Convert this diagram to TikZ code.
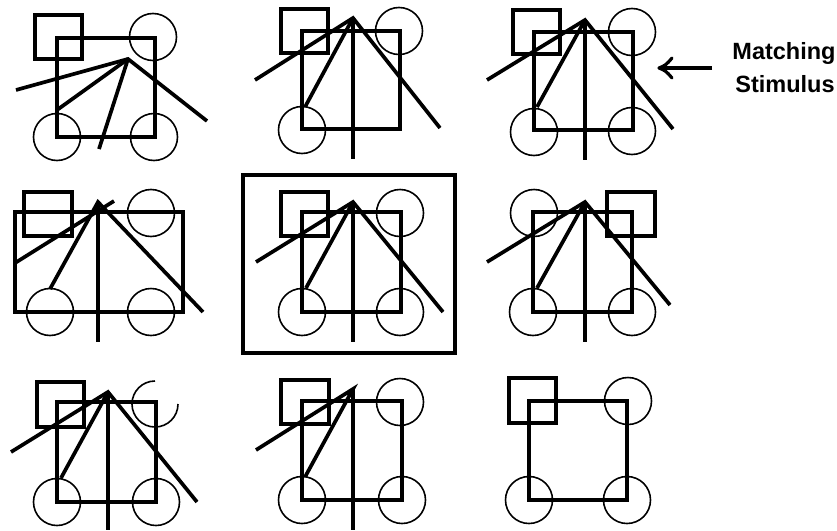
\documentclass[tikz,border=0pt]{standalone}
\usepackage{fontspec}
\newfontfamily\labfont{Liberation Sans}
\begin{document}
\begin{tikzpicture}[x=1pt,y=-1pt,
  thk/.style={line width=3.7pt,line join=miter},
  crc/.style={line width=1.6pt},
  arr/.style={line width=3.2pt},
  lbl/.style={font=\labfont\bfseries\fontsize{23.5}{28}\selectfont,anchor=base,inner sep=0pt}]
\useasboundingbox (0,0) rectangle (837,530);
\def\R{23.5}
% ---- figure 1
\draw[thk] (35,15) rectangle (82,59);
\draw[thk] (57,38) rectangle (155,137);
\draw[crc] (153,37) circle (\R) (57,137) circle (\R) (154,137) circle (\R);
\coordinate (a1) at (128,59);
\draw[thk] (16,90) -- (a1) -- (207,121);
\draw[thk] (a1) -- (57,110);
\draw[thk] (a1) -- (99,149);
% ---- figure 2
\draw[thk] (281,9) rectangle (328,53);
\draw[thk] (302,31) rectangle (400,129);
\draw[crc] (399,31) circle (\R) (302,130) circle (\R);
\coordinate (a2) at (353,18);
\draw[thk] (255,80) -- (a2) -- (440,128);
\draw[thk] (a2) -- (305,107);
\draw[thk] (a2) -- (353,159);
% ---- figure 3
\draw[thk] (513,10) rectangle (560,54);
\draw[thk] (534,32) rectangle (633,130);
\draw[crc] (632,32) circle (\R) (534,132) circle (\R) (632,131) circle (\R);
\coordinate (a3) at (585,20);
\draw[thk] (487,80) -- (a3) -- (673,129);
\draw[thk] (a3) -- (537,107);
\draw[thk] (a3) -- (585,160);
% ---- figure 4
\draw[thk] (24,192) rectangle (72,236);
\draw[thk] (15,212) rectangle (183,312);
\draw[crc] (151,213) circle (\R) (50,312) circle (\R) (151,312) circle (\R);
\coordinate (a4) at (98,202);
\draw[thk] (15,263) -- (114,201);
\draw[thk] (50,289) -- (a4) -- (203,312);
\draw[thk] (a4) -- (98,342);
% ---- figure 5
\draw[thk] (243,175) rectangle (455,353);
\draw[thk] (281,192) rectangle (328,236);
\draw[thk] (302,212) rectangle (401,312);
\draw[crc] (400,213) circle (\R) (302,312) circle (\R) (400,312) circle (\R);
\coordinate (a5) at (353,202);
\draw[thk] (256,262) -- (a5) -- (443,312);
\draw[thk] (a5) -- (306,288);
\draw[thk] (a5) -- (353,342);
% ---- figure 6
\draw[crc] (534,213) circle (\R);
\draw[thk] (607,192) rectangle (655,236);
\draw[thk] (533,212) rectangle (632,312);
\draw[crc] (533,312) circle (\R) (632,312) circle (\R);
\coordinate (a6) at (585,202);
\draw[thk] (487,262) -- (a6) -- (670,305);
\draw[thk] (a6) -- (537,288);
\draw[thk] (a6) -- (585,342);
% ---- figure 7
\draw[thk] (37,382) rectangle (84,427);
\draw[thk] (57,402) rectangle (156,502);
\draw[crc] (155,404) ++(0,-23) arc[start angle=-90,end angle=-360,radius=23];
\draw[crc] (57,502) circle (\R) (156,502) circle (\R);
\coordinate (a7) at (108,392);
\draw[thk] (11,452) -- (a7) -- (197,502);
\draw[thk] (a7) -- (61,478);
\draw[thk] (a7) -- (108,530);
% ---- figure 8
\draw[thk] (281,380) rectangle (329,424);
\draw[thk] (302,401) rectangle (402,500);
\draw[crc] (400,402) circle (\R) (302,500) circle (\R) (402,500) circle (\R);
\coordinate (a8) at (353,389);
\draw[thk] (256,450) -- (a8) -- (305,477);
\draw[thk] (a8) -- (353,530);
% ---- figure 9
\draw[thk] (509,378) rectangle (556,423);
\draw[thk] (529,401) rectangle (627,500);
\draw[crc] (628,401) circle (\R) (529,500) circle (\R) (627,500) circle (\R);
% ---- label and arrow
\node[lbl] (m1) at (784,59) {Matching};
\node[lbl] (m2) at (785,92) {Stimulus};
\coordinate (arrS) at (712,68);
\coordinate (arrE) at (659,68);
\draw[arr] (arrS) -- (arrE);
\draw[arr,line join=round,line cap=round] (672,58) .. controls (666,65) .. (arrE) .. controls (666,71) .. (672,78);
\end{tikzpicture}
\end{document}
